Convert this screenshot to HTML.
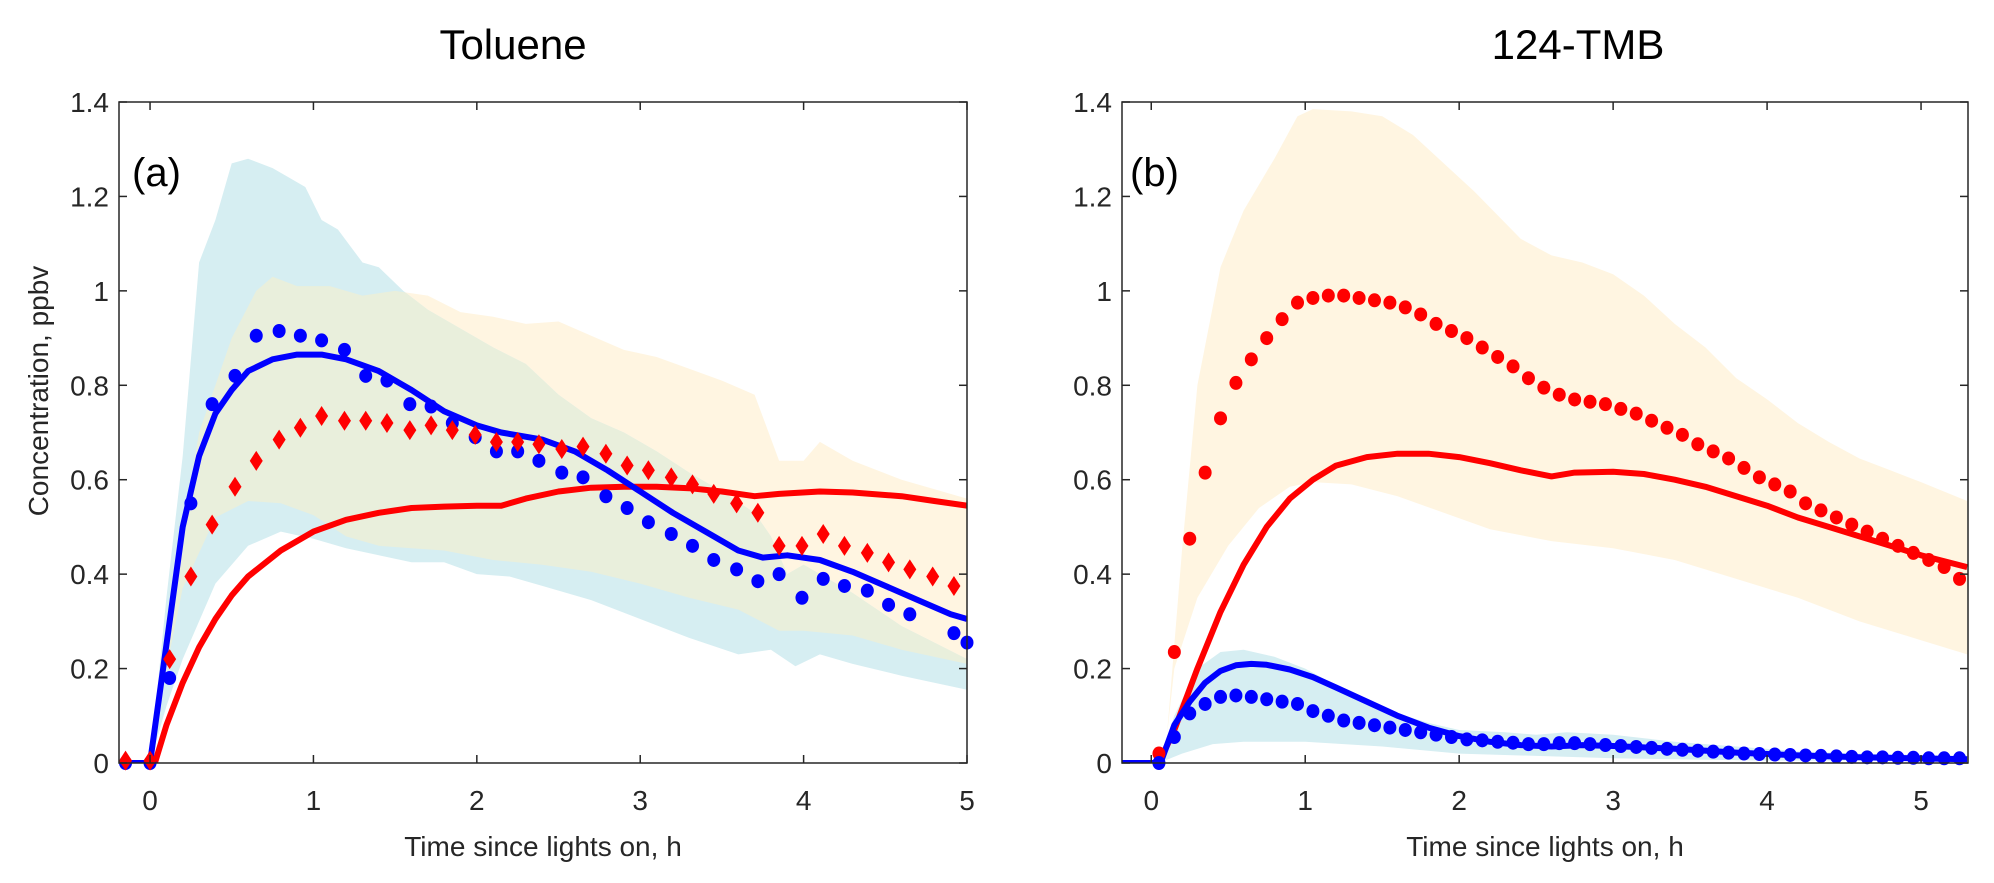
<!DOCTYPE html>
<html><head><meta charset="utf-8">
<style>
html,body{margin:0;padding:0;background:#fff;}
svg{display:block;}
text{font-family:"Liberation Sans",Arial,sans-serif;}
</style></head>
<body>
<svg id="chart" width="1994" height="883" viewBox="0 0 1994 883" xmlns="http://www.w3.org/2000/svg">
<text x="513" y="59" font-size="42" text-anchor="middle" fill="#000">Toluene</text>
<text x="1578" y="59" font-size="42" text-anchor="middle" fill="#000">124-TMB</text>
<text transform="translate(48,391) rotate(-90)" font-size="28" text-anchor="middle" fill="#262626">Concentration, ppbv</text>
<text x="543" y="856" font-size="28" text-anchor="middle" fill="#262626">Time since lights on, h</text>
<text x="1545" y="856" font-size="28" text-anchor="middle" fill="#262626">Time since lights on, h</text>
<g id="pa"></g>
<g id="pb"></g>
</svg>
<script>
// ---------- Panel (a) Toluene data ----------
const aBlueDotT=[-0.15,0,0.12,0.25,0.38,0.52,0.65,0.79,0.92,1.05,1.19,1.32,1.45,1.59,1.72,1.85,1.99,2.12,2.25,2.38,2.52,2.65,2.79,2.92,3.05,3.19,3.32,3.45,3.59,3.72,3.85,3.99,4.12,4.25,4.39,4.52,4.65,4.92,5.0];
const aBlueDotV=[0,0,0.18,0.55,0.76,0.82,0.905,0.915,0.905,0.895,0.875,0.82,0.81,0.76,0.755,0.72,0.69,0.66,0.66,0.64,0.615,0.605,0.565,0.54,0.51,0.485,0.46,0.43,0.41,0.385,0.40,0.35,0.39,0.375,0.365,0.335,0.315,0.275,0.255];
const aRedDiaT=[-0.15,0,0.12,0.25,0.38,0.52,0.65,0.79,0.92,1.05,1.19,1.32,1.45,1.59,1.72,1.85,1.99,2.12,2.25,2.38,2.52,2.65,2.79,2.92,3.05,3.19,3.32,3.45,3.59,3.72,3.85,3.99,4.12,4.25,4.39,4.52,4.65,4.79,4.92];
const aRedDiaV=[0.005,0.005,0.22,0.395,0.505,0.585,0.64,0.685,0.71,0.735,0.725,0.725,0.72,0.705,0.715,0.705,0.695,0.68,0.68,0.675,0.665,0.67,0.655,0.63,0.62,0.605,0.59,0.57,0.55,0.53,0.46,0.46,0.485,0.46,0.445,0.425,0.41,0.395,0.375];
const aBlueLineT=[-0.2,0,0.1,0.2,0.3,0.4,0.5,0.6,0.75,0.9,1.05,1.2,1.4,1.6,1.8,2.0,2.15,2.4,2.6,2.8,3.0,3.2,3.4,3.6,3.75,3.9,4.1,4.3,4.5,4.7,4.9,5.0];
const aBlueLineV=[0,0,0.25,0.5,0.65,0.74,0.79,0.83,0.855,0.865,0.865,0.855,0.83,0.79,0.745,0.715,0.70,0.685,0.66,0.62,0.575,0.53,0.49,0.45,0.435,0.44,0.43,0.405,0.375,0.345,0.315,0.305];
const aRedLineT=[-0.2,0.03,0.1,0.2,0.3,0.4,0.5,0.6,0.8,1.0,1.2,1.4,1.6,1.8,2.0,2.15,2.3,2.5,2.7,2.9,3.1,3.3,3.5,3.7,3.85,4.1,4.3,4.6,4.8,5.0];
const aRedLineV=[0,0,0.08,0.17,0.245,0.305,0.355,0.395,0.45,0.49,0.515,0.53,0.54,0.543,0.545,0.545,0.56,0.575,0.583,0.585,0.585,0.582,0.575,0.565,0.57,0.575,0.573,0.565,0.555,0.545];
const aCyanBandT=[0,0.1,0.2,0.3,0.4,0.5,0.6,0.75,0.85,0.95,1.05,1.15,1.3,1.4,1.55,1.7,1.9,2.1,2.3,2.5,2.7,2.9,3.1,3.3,3.5,3.7,3.8,3.9,4.0,4.3,4.6,5.0, 5.0,4.6,4.3,4.1,3.95,3.8,3.6,3.3,3.0,2.7,2.4,2.2,2.0,1.8,1.6,1.4,1.2,1.0,0.8,0.6,0.4,0.2,0.1,0];
const aCyanBandV=[0,0.35,0.65,1.06,1.15,1.27,1.28,1.26,1.24,1.22,1.15,1.13,1.06,1.05,1.0,0.96,0.92,0.88,0.845,0.78,0.73,0.70,0.66,0.615,0.575,0.53,0.48,0.40,0.42,0.36,0.29,0.22, 0.155,0.185,0.21,0.23,0.205,0.24,0.23,0.265,0.305,0.345,0.375,0.395,0.40,0.425,0.425,0.44,0.455,0.475,0.49,0.46,0.38,0.22,0.12,0];
const aOrangeBandT=[0,0.1,0.3,0.5,0.65,0.75,0.9,1.1,1.3,1.5,1.7,1.9,2.1,2.3,2.5,2.7,2.9,3.1,3.3,3.5,3.7,3.85,4.0,4.1,4.3,4.6,5.0, 5.0,4.6,4.3,4.0,3.85,3.6,3.3,3.0,2.7,2.4,2.1,1.8,1.6,1.4,1.2,1.0,0.8,0.6,0.4,0.2,0.1,0];
const aOrangeBandV=[0,0.3,0.7,0.9,1.0,1.03,1.01,1.01,0.99,1.0,0.99,0.955,0.945,0.93,0.935,0.905,0.875,0.86,0.835,0.81,0.78,0.64,0.64,0.68,0.64,0.60,0.56, 0.21,0.24,0.27,0.28,0.28,0.325,0.35,0.38,0.405,0.42,0.43,0.45,0.455,0.46,0.48,0.525,0.55,0.555,0.52,0.37,0.2,0];
// ---------- Panel (b) 124-TMB data ----------
const bRedDotT=[0.05,0.15,0.25,0.35,0.45,0.55,0.65,0.75,0.85,0.95,1.05,1.15,1.25,1.35,1.45,1.55,1.65,1.75,1.85,1.95,2.05,2.15,2.25,2.35,2.45,2.55,2.65,2.75,2.85,2.95,3.05,3.15,3.25,3.35,3.45,3.55,3.65,3.75,3.85,3.95,4.05,4.15,4.25,4.35,4.45,4.55,4.65,4.75,4.85,4.95,5.05,5.15,5.25];
const bRedDotV=[0.02,0.235,0.475,0.615,0.73,0.805,0.855,0.90,0.94,0.975,0.985,0.99,0.99,0.985,0.98,0.975,0.965,0.95,0.93,0.915,0.90,0.88,0.86,0.84,0.815,0.795,0.78,0.77,0.765,0.76,0.75,0.74,0.725,0.71,0.695,0.675,0.66,0.645,0.625,0.605,0.59,0.575,0.55,0.535,0.52,0.505,0.49,0.475,0.46,0.445,0.43,0.415,0.39];
const bRedLineT=[-0.2,0.05,0.15,0.3,0.45,0.6,0.75,0.9,1.05,1.2,1.4,1.6,1.8,2.0,2.2,2.4,2.6,2.75,3.0,3.2,3.4,3.6,3.8,4.0,4.2,4.4,4.6,4.8,5.0,5.3];
const bRedLineV=[0,0,0.07,0.2,0.32,0.42,0.5,0.56,0.6,0.63,0.648,0.655,0.655,0.648,0.635,0.62,0.607,0.615,0.617,0.612,0.6,0.585,0.565,0.545,0.52,0.5,0.48,0.46,0.44,0.415];
const bBlueDotT=[0.05,0.15,0.25,0.35,0.45,0.55,0.65,0.75,0.85,0.95,1.05,1.15,1.25,1.35,1.45,1.55,1.65,1.75,1.85,1.95,2.05,2.15,2.25,2.35,2.45,2.55,2.65,2.75,2.85,2.95,3.05,3.15,3.25,3.35,3.45,3.55,3.65,3.75,3.85,3.95,4.05,4.15,4.25,4.35,4.45,4.55,4.65,4.75,4.85,4.95,5.05,5.15,5.25];
const bBlueDotV=[0,0.055,0.105,0.125,0.14,0.143,0.14,0.135,0.13,0.125,0.11,0.1,0.09,0.085,0.08,0.075,0.07,0.065,0.06,0.055,0.05,0.048,0.045,0.043,0.04,0.04,0.042,0.042,0.04,0.038,0.036,0.034,0.032,0.03,0.028,0.026,0.024,0.022,0.02,0.019,0.018,0.017,0.016,0.015,0.014,0.013,0.012,0.012,0.011,0.011,0.01,0.01,0.01];
const bBlueLineT=[-0.2,0.06,0.15,0.25,0.35,0.45,0.55,0.65,0.75,0.9,1.05,1.2,1.4,1.6,1.8,2.0,2.2,2.4,2.6,2.8,3.0,3.4,3.8,4.2,4.6,5.3];
const bBlueLineV=[0,0,0.08,0.13,0.17,0.195,0.207,0.21,0.208,0.198,0.182,0.16,0.13,0.1,0.075,0.057,0.045,0.038,0.035,0.038,0.036,0.03,0.022,0.016,0.012,0.008];
const bOrangeBandT=[0.1,0.2,0.3,0.45,0.6,0.8,0.95,1.05,1.3,1.5,1.7,1.9,2.1,2.4,2.6,2.8,3.0,3.2,3.4,3.6,3.8,4.0,4.2,4.4,4.6,4.8,5.0,5.3, 5.3,5.0,4.6,4.2,3.8,3.4,3.0,2.6,2.2,1.9,1.6,1.3,1.05,0.9,0.7,0.5,0.3,0.15,0.1];
const bOrangeBandV=[0.05,0.45,0.8,1.05,1.17,1.28,1.37,1.385,1.38,1.37,1.33,1.27,1.21,1.11,1.075,1.06,1.035,0.99,0.93,0.88,0.815,0.77,0.72,0.68,0.645,0.62,0.595,0.555, 0.23,0.26,0.3,0.35,0.39,0.43,0.455,0.47,0.495,0.53,0.565,0.59,0.595,0.585,0.54,0.46,0.35,0.2,0.05];
const bCyanBandT=[0.05,0.15,0.3,0.45,0.6,0.8,1.0,1.2,1.4,1.6,1.8,2.0,2.3,2.5,2.7,3.0,3.4,3.8,4.2,4.6,5.3, 5.3,4.0,3.0,2.5,2.0,1.5,1.0,0.6,0.4,0.2,0.05];
const bCyanBandV=[0,0.1,0.2,0.235,0.24,0.225,0.2,0.165,0.13,0.105,0.085,0.07,0.065,0.06,0.065,0.06,0.045,0.035,0.025,0.02,0.015, 0.005,0.005,0.01,0.015,0.02,0.035,0.045,0.045,0.04,0.02,0];
const yTicks=[0,0.2,0.4,0.6,0.8,1,1.2,1.4];
const yTickLabels=["0","0.2","0.4","0.6","0.8","1","1.2","1.4"];
const xTicks=[0,1,2,3,4,5];
const xTickLabels=["0","1","2","3","4","5"];

const NS="http://www.w3.org/2000/svg";
function mk(parent,tag,attrs){const e=document.createElementNS(NS,tag);for(const k in attrs)e.setAttribute(k,attrs[k]);parent.appendChild(e);return e;}

function panel(gid,L,R,xmin,xmax,pfx){
  const g=document.getElementById(gid);
  const T=102,B=763,ymax=1.4;
  const X=t=>L+(t-xmin)/(xmax-xmin)*(R-L);
  const Y=v=>B-v/ymax*(B-T);
  const defs=mk(g,'defs',{});
  const cp=mk(defs,'clipPath',{id:pfx+'clip'});
  mk(cp,'rect',{x:L,y:T,width:R-L,height:B-T});
  const plot=mk(g,'g',{'clip-path':'url(#'+pfx+'clip)'});
  
  
  return {g,plot,X,Y,L,R,T,B,defs};
}
function poly(ts,vs,P){return ts.map((t,i)=>P.X(t).toFixed(1)+','+P.Y(vs[i]).toFixed(1)).join(' ');}
function bands(P,cT,cV,oT,oV,pfx){
  const o=mk(P.plot,'polygon',{points:poly(oT,oV,P),fill:'#fff5e1'});
  
  
  const c=mk(P.plot,'polygon',{points:poly(cT,cV,P),fill:'#d6eef2'});
  
  
  const cp=mk(P.defs,'clipPath',{id:pfx+'cyanclip'});
  mk(cp,'polygon',{points:poly(cT,cV,P)});
  const ov=mk(P.plot,'polygon',{points:poly(oT,oV,P),fill:'#e9efdc','clip-path':'url(#'+pfx+'cyanclip)'});
  
  
}
function line(P,ts,vs,color,name){
  const l=mk(P.plot,'polyline',{points:poly(ts,vs,P),fill:'none',stroke:color,'stroke-width':6,'stroke-linejoin':'round'});
  
  
}
function dots(P,ts,vs,color,name){
  const gg=mk(P.g,'g',{});
  
  
  ts.forEach((t,i)=>{mk(gg,'ellipse',{cx:P.X(t),cy:P.Y(vs[i]),rx:6.5,ry:7,fill:color});});
}
function diamonds(P,ts,vs,color,name){
  const gg=mk(P.g,'g',{});
  
  
  ts.forEach((t,i)=>{const x=P.X(t),y=P.Y(vs[i]);
    mk(gg,'polygon',{points:`${x},${y-10} ${x+6.5},${y} ${x},${y+10} ${x-6.5},${y}`,fill:color});});
}
function axes(P,letter,lx,name){
  const g=mk(P.g,'g',{});
  
  
  mk(g,'rect',{x:P.L,y:P.T,width:P.R-P.L,height:P.B-P.T,fill:'none',stroke:'#262626','stroke-width':1.5});
  yTicks.forEach((v,i)=>{const y=P.Y(v);
    mk(g,'line',{x1:P.L,y1:y,x2:P.L+8,y2:y,stroke:'#262626','stroke-width':1.5});
    mk(g,'line',{x1:P.R,y1:y,x2:P.R-8,y2:y,stroke:'#262626','stroke-width':1.5});
    const t=mk(g,'text',{x:P.L-10,y:y+10,'font-size':28,'text-anchor':'end',fill:'#262626'});t.textContent=yTickLabels[i];});
  xTicks.forEach((v,i)=>{const x=P.X(v);
    mk(g,'line',{x1:x,y1:P.B,x2:x,y2:P.B-8,stroke:'#262626','stroke-width':1.5});
    mk(g,'line',{x1:x,y1:P.T,x2:x,y2:P.T+8,stroke:'#262626','stroke-width':1.5});
    const t=mk(g,'text',{x:x,y:P.B+47,'font-size':28,'text-anchor':'middle',fill:'#262626'});t.textContent=xTickLabels[i];});
  const lt=mk(P.g,'text',{x:lx,y:186,'font-size':40,fill:'#000'});
  lt.textContent=letter;
  
  
}

const A=panel('pa',119,967,-0.19,5,'a');
bands(A,aCyanBandT,aCyanBandV,aOrangeBandT,aOrangeBandV,'a');
line(A,aRedLineT,aRedLineV,'#ff0000','red-model-line');
line(A,aBlueLineT,aBlueLineV,'#0000ff','blue-model-line');
dots(A,aBlueDotT,aBlueDotV,'#0000ff','blue-observed-dots');
diamonds(A,aRedDiaT,aRedDiaV,'#ff0000','red-observed-diamonds');
axes(A,'(a)',132,'axes-a');

const Bp=panel('pb',1122,1968,-0.19,5.305,'b');
bands(Bp,bCyanBandT,bCyanBandV,bOrangeBandT,bOrangeBandV,'b');
line(Bp,bRedLineT,bRedLineV,'#ff0000','red-model-line');
line(Bp,bBlueLineT,bBlueLineV,'#0000ff','blue-model-line');
dots(Bp,bRedDotT,bRedDotV,'#ff0000','red-observed-dots');
dots(Bp,bBlueDotT,bBlueDotV,'#0000ff','blue-observed-dots');
axes(Bp,'(b)',1130,'axes-b');
</script>
</body></html>
